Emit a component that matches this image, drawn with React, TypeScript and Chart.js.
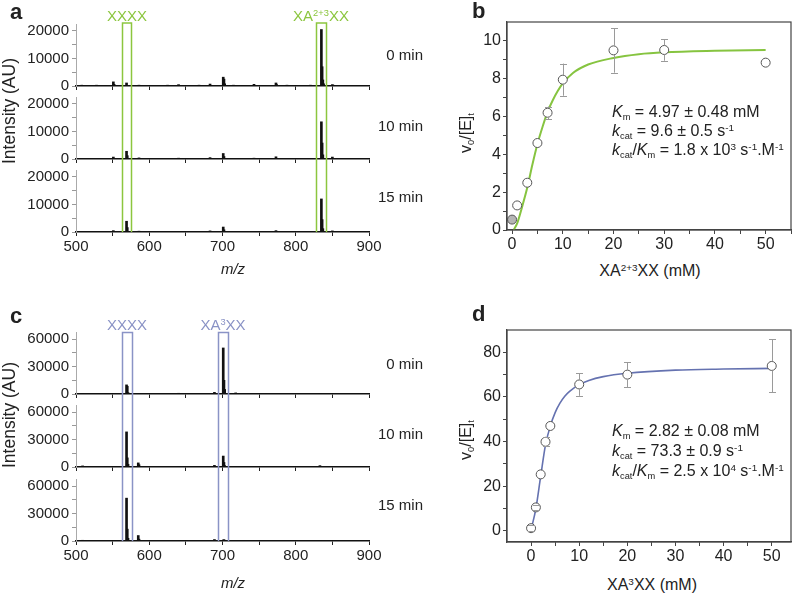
import React, { useEffect, useRef } from 'react';
import { Chart, registerables } from 'chart.js';

Chart.register(...registerables);

const FONT = '"Liberation Sans", Arial, Helvetica, sans-serif';
const GREEN = '#8cc63f';
const BLUE = '#8a93c6';
const FIT_BLUE = '#6572b0';

// ---------- Panel a: MALDI spectra, XA(2+3)XX digestion ----------
const a0Mz = [508, 520, 528, 540, 551, 552, 569, 586, 600, 613, 625, 640, 655, 668, 683, 701, 702, 703, 715, 728, 743, 757, 773, 774, 788, 800, 812, 820, 835, 836, 837, 838, 850, 851, 868, 885];
const a0Int = [300, 250, 300, 250, 1500, 600, 1100, 300, 250, 250, 300, 500, 250, 300, 700, 3200, 2500, 800, 300, 250, 600, 250, 1100, 500, 300, 250, 250, 300, 20500, 7000, 2200, 800, 500, 300, 250, 250];
const a1Mz = [551, 569, 570, 586, 640, 683, 701, 702, 743, 773, 835, 836, 837, 850];
const a1Int = [700, 2800, 1200, 400, 300, 500, 2000, 900, 300, 800, 13500, 5800, 1500, 700];
const a2Mz = [551, 569, 570, 586, 683, 701, 702, 773, 835, 836, 837, 850];
const a2Int = [500, 3900, 1600, 300, 400, 1800, 800, 500, 12000, 4500, 1200, 400];

// ---------- Panel c: MALDI spectra, XA3XX digestion ----------
const c0Mz = [509, 540, 569, 570, 571, 586, 596, 640, 689, 701, 702, 703, 718, 760, 833];
const c0Int = [400, 300, 10000, 8500, 1500, 500, 400, 800, 1800, 50500, 15000, 5000, 1200, 300, 400];
const c1Mz = [509, 540, 569, 570, 571, 585, 586, 640, 689, 701, 702, 703, 718, 833];
const c1Int = [1200, 300, 38500, 10000, 3000, 4500, 2500, 400, 1800, 12000, 5000, 1500, 400, 1500];
const c2Mz = [509, 569, 570, 571, 585, 586, 640, 689, 701, 702, 833];
const c2Int = [800, 47000, 13000, 3000, 6000, 2000, 300, 1600, 1000, 1500, 300];

// highlighted m/z windows
const aBoxes = [[562.8, 575.6], [828.2, 841]];
const cBoxes = [[562.8, 575.8], [694.3, 707.1]];

// tick values (labels shown on the "major" subset)
const specXTicks = [500, 550, 600, 650, 700, 750, 800, 850, 900];
const specXLabelled = [500, 600, 700, 800, 900];
const aYTicks = [0, 5000, 10000, 15000, 20000];
const aYLabelled = [0, 10000, 20000];
const cYTicks = [0, 15000, 30000, 45000, 60000];
const cYLabelled = [0, 30000, 60000];

// ---------- Panel b: kinetics XA(2+3)XX ----------
const bX = [0, 1, 3, 5, 7, 10, 20, 30, 50];
const bY = [0.55, 1.3, 2.5, 4.6, 6.2, 7.95, 9.5, 9.52, 8.85];
const bErr = [0, 0, 0, 0, 0.33, 0.85, 1.18, 0.57, 0];
const bFitX = [0.3, 1, 2, 3, 4, 5, 6, 7, 8, 9, 10, 12, 15, 20, 25, 30, 40, 50];
const bFitY = [0, 0.35, 1.25, 2.25, 3.45, 4.55, 5.45, 6.25, 6.85, 7.35, 7.75, 8.3, 8.75, 9.1, 9.3, 9.4, 9.48, 9.52];
const bXTicks = [0, 5, 10, 15, 20, 25, 30, 35, 40, 45, 50, 55];
const bXLabelled = [0, 10, 20, 30, 40, 50];
const bYTicks = [0, 1, 2, 3, 4, 5, 6, 7, 8, 9, 10];
const bYLabelled = [0, 2, 4, 6, 8, 10];

// ---------- Panel d: kinetics XA3XX ----------
const dX = [0, 1, 2, 3, 4, 10, 20, 50];
const dY = [1.2, 10.5, 25.3, 39.9, 47, 65.6, 70, 73.9];
const dErr = [1.2, 1.2, 0, 2, 0, 5.1, 5.6, 11.9];
const dFitX = [0, 1, 2, 3, 4, 5, 6, 7, 8, 10, 12, 15, 20, 30, 40, 50];
const dFitY = [0.5, 10, 24.5, 38.5, 47, 53, 57.2, 60.3, 62.5, 65.5, 67.4, 69.1, 70.6, 72, 72.5, 72.8];
const dXTicks = [0, 5, 10, 15, 20, 25, 30, 35, 40, 45, 50];
const dXLabelled = [0, 10, 20, 30, 40, 50];
const dYTicks = [0, 10, 20, 30, 40, 50, 60, 70, 80];
const dYLabelled = [0, 20, 40, 60, 80];

function fixedTicks(values: number[]) {
  return (s: any) => { s.ticks = values.map((v) => ({ value: v })); };
}
function labelOnly(labelled: number[]) {
  return (v: number) => (labelled.includes(Number(v)) ? String(v) : '');
}

function boxPlugin(ranges: number[][], color: string, topY: number | null) {
  return {
    id: 'mzBoxes',
    afterDatasetsDraw(chart: any) {
      const { ctx, chartArea, scales } = chart;
      const x = scales.x;
      ctx.save();
      ctx.strokeStyle = color;
      ctx.lineWidth = 1.5;
      for (const [lo, hi] of ranges) {
        const x1 = Math.round(x.getPixelForValue(lo)) + 0.5;
        const x2 = Math.round(x.getPixelForValue(hi)) + 0.5;
        const y0 = topY === null ? 0 : topY;
        ctx.beginPath();
        ctx.moveTo(x1, chartArea.bottom);
        ctx.lineTo(x1, y0);
        if (topY !== null) ctx.lineTo(x2, y0);
        else ctx.moveTo(x2, y0);
        ctx.lineTo(x2, chartArea.bottom);
        ctx.stroke();
      }
      ctx.restore();
    },
  };
}

function specConfig(p: {
  mz: number[]; ints: number[]; yMax: number; yTicks: number[]; yLabelled: number[];
  showX: boolean; padTop: number; xH: number; boxes: number[][]; boxColor: string; boxTop: number | null;
}) {
  return {
    type: 'bar',
    data: {
      datasets: [{
        data: p.mz.map((m, i) => ({ x: m, y: p.ints[i] })),
        backgroundColor: '#111',
        borderWidth: 0,
        barThickness: 2,
        grouped: false,
      }],
    },
    options: {
      animation: false,
      responsive: false,
      events: [],
      layout: { padding: { left: 0, right: 31, top: p.padTop, bottom: 0 }, autoPadding: false },
      plugins: { legend: { display: false }, tooltip: { enabled: false } },
      scales: {
        x: {
          type: 'linear', min: 500, max: 900, offset: false,
          grid: { drawOnChartArea: false, drawTicks: true, tickLength: 4, color: '#222', offset: false },
          border: { display: true, color: '#111', width: 1.5 },
          afterBuildTicks: fixedTicks(specXTicks),
          ticks: {
            display: p.showX, autoSkip: false, maxRotation: 0, padding: 2,
            color: '#222', font: { family: FONT, size: 15 },
            callback: labelOnly(specXLabelled),
          },
          afterFit: (s: any) => { s.height = p.xH; s.paddingLeft = 0; s.paddingRight = 0; },
        },
        y: {
          type: 'linear', min: 0, max: p.yMax,
          grid: { drawOnChartArea: false, tickLength: 4, color: '#999' },
          border: { display: true, color: '#aaa', width: 1 },
          afterBuildTicks: fixedTicks(p.yTicks),
          ticks: {
            autoSkip: false, padding: 3,
            color: '#222', font: { family: FONT, size: 15 },
            callback: labelOnly(p.yLabelled),
          },
          afterFit: (s: any) => { s.width = 76; s.paddingTop = 0; s.paddingBottom = 0; },
        },
      },
    },
    plugins: [boxPlugin(p.boxes, p.boxColor, p.boxTop)],
  };
}

const framePlugin = {
  id: 'frame',
  afterDraw(chart: any) {
    const { ctx, chartArea: a } = chart;
    ctx.save();
    ctx.strokeStyle = '#444';
    ctx.lineWidth = 1.2;
    ctx.strokeRect(a.left, a.top, a.right - a.left, a.bottom - a.top);
    ctx.restore();
  },
};

function errPlugin(err: number[]) {
  return {
    id: 'errBars',
    afterDatasetsDraw(chart: any) {
      const { ctx } = chart;
      const y = chart.scales.y;
      const meta = chart.getDatasetMeta(0);
      const vals = chart.data.datasets[0].data;
      ctx.save();
      ctx.strokeStyle = '#9a9a9a';
      ctx.lineWidth = 1;
      meta.data.forEach((pt: any, i: number) => {
        const e = err[i];
        if (!e) return;
        const v = vals[i].y;
        const yt = y.getPixelForValue(v + e);
        const yb = y.getPixelForValue(v - e);
        const px = Math.round(pt.x) + 0.5;
        const r = 4.5;
        ctx.beginPath();
        if (yt < pt.y - r) { ctx.moveTo(px, pt.y - r); ctx.lineTo(px, yt); }
        if (yb > pt.y + r) { ctx.moveTo(px, pt.y + r); ctx.lineTo(px, yb); }
        ctx.moveTo(px - 3.5, Math.round(yt) + 0.5); ctx.lineTo(px + 3.5, Math.round(yt) + 0.5);
        ctx.moveTo(px - 3.5, Math.round(yb) + 0.5); ctx.lineTo(px + 3.5, Math.round(yb) + 0.5);
        ctx.stroke();
      });
      ctx.restore();
    },
  };
}

function kinConfig(p: {
  xs: number[]; ys: number[]; err: number[]; fitX: number[]; fitY: number[]; fitColor: string; fitWidth: number;
  xMin: number; xMax: number; yMin: number; yMax: number;
  xTicks: number[]; xLabelled: number[]; yTicks: number[]; yLabelled: number[];
  firstFill: string; padTop: number; xH: number;
}) {
  return {
    type: 'scatter',
    data: {
      datasets: [
        {
          data: p.xs.map((x, i) => ({ x, y: p.ys[i] })),
          pointRadius: 4.5,
          pointBackgroundColor: p.xs.map((_, i) => (i === 0 ? p.firstFill : '#ffffff')),
          pointBorderColor: '#555',
          pointBorderWidth: 1,
          showLine: false,
        },
        {
          data: p.fitX.map((x, i) => ({ x, y: p.fitY[i] })),
          showLine: true,
          borderColor: p.fitColor,
          borderWidth: p.fitWidth,
          pointRadius: 0,
          cubicInterpolationMode: 'monotone',
          fill: false,
        },
      ],
    },
    options: {
      animation: false,
      responsive: false,
      events: [],
      layout: { padding: { left: 0, right: 6, top: p.padTop, bottom: 0 }, autoPadding: false },
      plugins: { legend: { display: false }, tooltip: { enabled: false } },
      scales: {
        x: {
          type: 'linear', min: p.xMin, max: p.xMax,
          grid: { drawOnChartArea: false, tickLength: 4, color: '#444' },
          border: { display: true, color: '#444', width: 1.2 },
          afterBuildTicks: fixedTicks(p.xTicks),
          ticks: {
            autoSkip: false, maxRotation: 0, padding: 1,
            color: '#222', font: { family: FONT, size: 16 },
            callback: labelOnly(p.xLabelled),
          },
          afterFit: (s: any) => { s.height = p.xH; s.paddingLeft = 0; s.paddingRight = 0; },
        },
        y: {
          type: 'linear', min: p.yMin, max: p.yMax,
          grid: { drawOnChartArea: false, tickLength: 4, color: '#444' },
          border: { display: true, color: '#444', width: 1.2 },
          afterBuildTicks: fixedTicks(p.yTicks),
          ticks: {
            autoSkip: false, padding: 2,
            color: '#222', font: { family: FONT, size: 16 },
            callback: labelOnly(p.yLabelled),
          },
          afterFit: (s: any) => { s.width = 107; s.paddingTop = 0; s.paddingBottom = 0; },
        },
      },
    },
    plugins: [framePlugin, errPlugin(p.err)],
  };
}

function ChartCanvas({ left, top, width, height, make }: { left: number; top: number; width: number; height: number; make: () => any }) {
  const ref = useRef<HTMLCanvasElement | null>(null);
  useEffect(() => {
    if (!ref.current) return;
    const chart = new Chart(ref.current, make());
    return () => chart.destroy();
  }, []);
  return (
    <canvas
      ref={ref}
      width={width}
      height={height}
      style={{ position: 'absolute', left, top, width, height }}
    />
  );
}

function Txt({ x, y, children, size = 15, align = 'left', color = '#222', rot = 0, bold = false, italic = false }: any) {
  const tx = align === 'left' ? '0' : align === 'center' ? '-50%' : '-100%';
  const transform = rot ? `translate(-50%, -50%) rotate(${rot}deg)` : `translate(${tx}, -50%)`;
  return (
    <div
      style={{
        position: 'absolute', left: x, top: y, transform, whiteSpace: 'nowrap',
        fontFamily: FONT, fontSize: size, lineHeight: 1, color,
        fontWeight: bold ? 'bold' : 'normal', fontStyle: italic ? 'italic' : 'normal',
      }}
    >
      {children}
    </div>
  );
}

const Sub = ({ children }: any) => (
  <span style={{ fontSize: '0.58em', position: 'relative', top: '0.3em', lineHeight: 0 }}>{children}</span>
);
const Sup = ({ children }: any) => (
  <span style={{ fontSize: '0.62em', position: 'relative', top: '-0.55em', lineHeight: 0 }}>{children}</span>
);

export default function App() {
  const aBase = [86, 159, 232];
  const cBase = [394, 467, 541];
  const aSpec = [[a0Mz, a0Int], [a1Mz, a1Int], [a2Mz, a2Int]];
  const cSpec = [[c0Mz, c0Int], [c1Mz, c1Int], [c2Mz, c2Int]];
  const PH = 62;

  const specCanvases: any[] = [];
  aSpec.forEach(([mz, ints], i) => {
    const top = i === 0 ? 0 : aBase[i - 1];
    const xH = i === 2 ? 30 : 6;
    const height = aBase[i] + xH - top;
    specCanvases.push(
      <ChartCanvas key={'a' + i} left={0} top={top} width={400} height={height}
        make={() => specConfig({
          mz, ints, yMax: 22500, yTicks: aYTicks, yLabelled: aYLabelled, showX: i === 2,
          padTop: aBase[i] - PH - top, xH, boxes: aBoxes, boxColor: GREEN, boxTop: i === 0 ? 23 : null,
        })} />
    );
  });
  cSpec.forEach(([mz, ints], i) => {
    const top = i === 0 ? 300 : cBase[i - 1];
    const xH = i === 2 ? 30 : 6;
    const height = cBase[i] + xH - top;
    specCanvases.push(
      <ChartCanvas key={'c' + i} left={0} top={top} width={400} height={height}
        make={() => specConfig({
          mz, ints, yMax: 68000, yTicks: cYTicks, yLabelled: cYLabelled, showX: i === 2,
          padTop: cBase[i] - PH - top, xH, boxes: cBoxes, boxColor: BLUE, boxTop: i === 0 ? 32.5 : null,
        })} />
    );
  });

  return (
    <div style={{ position: 'absolute', left: 0, top: 0, width: 797, height: 593, background: '#fff', overflow: 'hidden' }}>
      {specCanvases}
      <ChartCanvas left={400} top={0} width={397} height={262}
        make={() => kinConfig({
          xs: bX, ys: bY, err: bErr, fitX: bFitX, fitY: bFitY, fitColor: '#86c440', fitWidth: 2,
          xMin: -1, xMax: 55, yMin: 0, yMax: 11,
          xTicks: bXTicks, xLabelled: bXLabelled, yTicks: bYTicks, yLabelled: bYLabelled,
          firstFill: '#b5b5b5', padTop: 22, xH: 32,
        })} />
      <ChartCanvas left={400} top={300} width={397} height={272}
        make={() => kinConfig({
          xs: dX, ys: dY, err: dErr, fitX: dFitX, fitY: dFitY, fitColor: FIT_BLUE, fitWidth: 1.6,
          xMin: -5, xMax: 54, yMin: -5, yMax: 90,
          xTicks: dXTicks, xLabelled: dXLabelled, yTicks: dYTicks, yLabelled: dYLabelled,
          firstFill: '#ffffff', padTop: 30, xH: 30,
        })} />

      {/* panel letters */}
      <Txt x={10} y={12} size={22} bold>a</Txt>
      <Txt x={472} y={11} size={22} bold>b</Txt>
      <Txt x={10} y={316} size={22} bold>c</Txt>
      <Txt x={472} y={314} size={22} bold>d</Txt>

      {/* panel a labels */}
      <Txt x={127} y={15} size={15} align="center" color={GREEN}>XXXX</Txt>
      <Txt x={321} y={15} size={15} align="center" color={GREEN}>XA<Sup>2+3</Sup>XX</Txt>
      <Txt x={423} y={54} size={15} align="right">0 min</Txt>
      <Txt x={423} y={125} size={15} align="right">10 min</Txt>
      <Txt x={423} y={196} size={15} align="right">15 min</Txt>
      <Txt x={10} y={111} size={17.5} rot={-90}>Intensity (AU)</Txt>
      <Txt x={233} y={268} size={15} align="center" italic>m/z</Txt>

      {/* panel c labels */}
      <Txt x={127} y={324} size={15} align="center" color={BLUE}>XXXX</Txt>
      <Txt x={223} y={324} size={15} align="center" color={BLUE}>XA<Sup>3</Sup>XX</Txt>
      <Txt x={423} y={363} size={15} align="right">0 min</Txt>
      <Txt x={423} y={433} size={15} align="right">10 min</Txt>
      <Txt x={423} y={504} size={15} align="right">15 min</Txt>
      <Txt x={10} y={415} size={17.5} rot={-90}>Intensity (AU)</Txt>
      <Txt x={233} y={582} size={15} align="center" italic>m/z</Txt>

      {/* panel b labels */}
      <Txt x={650} y={271} size={16} align="center">XA<Sup>2+3</Sup>XX (mM)</Txt>
      <Txt x={466} y={133} size={16} rot={-90}>v<Sub>0</Sub>/[E]<Sub>t</Sub></Txt>
      <Txt x={612} y={112} size={16}><i>K</i><Sub>m</Sub> = 4.97 ± 0.48 mM</Txt>
      <Txt x={612} y={131} size={16}><i>k</i><Sub>cat</Sub> = 9.6 ± 0.5 s<Sup>-1</Sup></Txt>
      <Txt x={612} y={150} size={16}><i>k</i><Sub>cat</Sub>/<i>K</i><Sub>m</Sub> = 1.8 x 10<Sup>3</Sup> s<Sup>-1</Sup>.M<Sup>-1</Sup></Txt>

      {/* panel d labels */}
      <Txt x={652} y={585} size={16} align="center">XA<Sup>3</Sup>XX (mM)</Txt>
      <Txt x={466} y={440} size={16} rot={-90}>v<Sub>0</Sub>/[E]<Sub>t</Sub></Txt>
      <Txt x={612} y={431} size={16}><i>K</i><Sub>m</Sub> = 2.82 ± 0.08 mM</Txt>
      <Txt x={612} y={451} size={16}><i>k</i><Sub>cat</Sub> = 73.3 ± 0.9 s<Sup>-1</Sup></Txt>
      <Txt x={612} y={471} size={16}><i>k</i><Sub>cat</Sub>/<i>K</i><Sub>m</Sub> = 2.5 x 10<Sup>4</Sup> s<Sup>-1</Sup>.M<Sup>-1</Sup></Txt>
    </div>
  );
}
